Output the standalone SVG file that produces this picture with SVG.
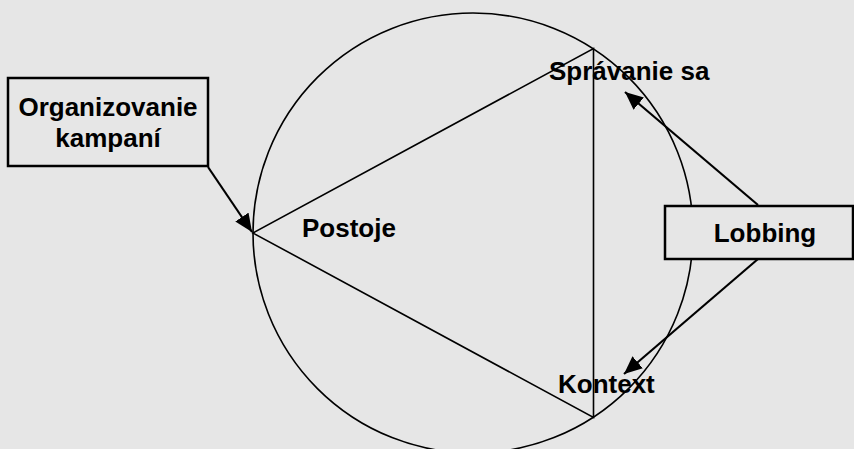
<svg xmlns="http://www.w3.org/2000/svg" width="854" height="449" viewBox="0 0 854 449">
<style>
.lbl{font-family:"Liberation Sans",Arial,sans-serif;font-weight:bold;font-size:26px;fill:#000}
.thin{fill:none;stroke:#000;stroke-width:1.6}
.box{fill:#e6e6e6;stroke:#000;stroke-width:2.5}
.arr{fill:none;stroke:#000;stroke-width:2.2}
</style>
<defs>
<marker id="ah" markerUnits="userSpaceOnUse" markerWidth="20" markerHeight="18" refX="18" refY="8" orient="auto">
<path d="M0,0 L18,8 L0,16 Z" fill="#000"/>
</marker>
</defs>
<rect width="854" height="449" fill="#e6e6e6"/>
<g id="circle"><circle cx="473" cy="233" r="220" class="thin"/></g>
<g id="triangle"><polygon points="253,233 593.5,48.5 593.5,417.5" class="thin"/></g>
<g id="postoje"><text class="lbl" x="302" y="237">Postoje</text></g>
<g id="spravanie"><text class="lbl" x="549" y="80">Správanie sa</text></g>
<g id="kontext"><text class="lbl" x="558" y="393">Kontext</text></g>
<g id="organizovanie">
<rect class="box" x="8" y="78" width="200" height="88"/>
<text class="lbl" x="108" y="116" text-anchor="middle">Organizovanie</text>
<text class="lbl" x="108" y="147" text-anchor="middle">kampaní</text>
</g>
<g id="lobbing">
<rect class="box" x="665" y="206" width="188" height="53"/>
<text class="lbl" x="765" y="242" text-anchor="middle">Lobbing</text>
</g>
<g id="connectors">
<line class="arr" x1="208" y1="167" x2="252" y2="232" marker-end="url(#ah)"/>
<line class="arr" x1="758" y1="205" x2="625" y2="92" marker-end="url(#ah)"/>
<line class="arr" x1="758" y1="259" x2="624" y2="374" marker-end="url(#ah)"/>
</g>
</svg>
